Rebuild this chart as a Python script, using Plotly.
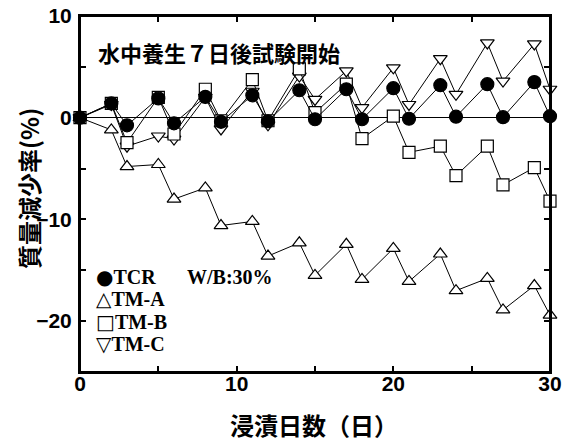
import plotly.graph_objects as go

days = [0, 2, 3, 5, 6, 8, 9, 11, 12, 14, 15, 17, 18, 20, 21, 23, 24, 26, 27, 29, 30]
tcr = [0, 1.4, -0.75, 1.9, -0.55, 2.05, -0.4, 2.2, -0.35, 2.7, -0.15, 2.8, -0.15, 2.9, -0.1, 3.2, 0.1, 3.3, 0.05, 3.5, 0.15]
tm_a = [0, -1.2, -4.8, -4.6, -8.0, -6.9, -10.6, -10.2, -13.6, -12.3, -15.5, -12.45, -15.9, -12.85, -16.1, -13.4, -17.0, -15.8, -18.9, -16.5, -19.4]
tm_b = [0, 1.4, -2.45, 2.0, -1.6, 2.8, -0.3, 3.75, -0.3, 4.8, 0.5, 3.3, -2.05, 0.15, -3.4, -2.8, -5.7, -2.8, -6.6, -4.9, -8.2]
tm_c = [0, 1.3, -2.8, -1.8, -2.1, 2.0, -1.1, 2.6, -0.7, 4.1, 1.8, 4.6, 1.0, 4.9, 1.3, 5.8, 2.3, 7.35, 3.6, 7.25, 2.8]

x_range = [0, 30]
y_range = [-25, 10]

series = [
    ("TM-A", tm_a, "triangle-up", 12, "white"),
    ("TM-C", tm_c, "triangle-down", 12, "white"),
    ("TM-B", tm_b, "square", 12, "white"),
    ("TCR", tcr, "circle", 13, "black"),
]

fig = go.Figure()
for name, vals, sym, size, fill in series:
    fig.add_trace(go.Scatter(
        x=days, y=vals, name=name, mode="lines+markers",
        line=dict(color="black", width=1),
        marker=dict(symbol=sym, size=size, color=fill,
                    line=dict(color="black", width=1.2)),
        showlegend=False, cliponaxis=False,
    ))

sans = "Liberation Sans, Arial, sans-serif"
cjk = "Noto Sans CJK JP, sans-serif"
serif = "Liberation Serif, Times New Roman, serif"

axis_common = dict(
    showline=True, linecolor="#000000", linewidth=2, mirror="allticks",
    ticks="inside", ticklen=6, tickwidth=1.5, tickcolor="#000000",
    showgrid=False, automargin=False,
    tickfont=dict(family=sans, size=21, color="black", weight="bold"),
    minor=dict(ticks="inside", ticklen=6, tickwidth=1.5, tickcolor="#000000", dtick=5, showgrid=False),
)

fig.update_layout(
    xaxis=dict(range=x_range, dtick=10, tick0=0, zeroline=False, ticklabelstandoff=-8, **axis_common),
    yaxis=dict(range=y_range, dtick=10, tick0=0, zeroline=True, zerolinecolor="black",
               zerolinewidth=1, ticklabelstandoff=2, **axis_common),
)

big = '<span style="font-family:DejaVu Sans;font-size:20px">{}</span>'

def leg(text, x, y):
    return dict(text=text, xref="paper", yref="paper", x=x, y=y,
                xanchor="left", yanchor="middle", showarrow=False,
                font=dict(family=serif, size=20, color="black", weight="bold"))

fig.update_layout(
    width=570, height=443,
    margin=dict(l=80, r=20, t=16, b=71),
    plot_bgcolor="white", paper_bgcolor="white",
    shapes=[dict(type="rect", xref="paper", yref="paper", x0=0, x1=1, y0=0, y1=1,
                 line=dict(color="#000000", width=2), fillcolor="rgba(0,0,0,0)", layer="above")],
    annotations=[
        dict(text="水中養生７日後試験開始", xref="paper", yref="paper", x=0.034, y=0.9,
             xanchor="left", yanchor="middle", showarrow=False,
             font=dict(family=cjk, size=22, color="black", weight="bold")),
        dict(text="浸漬日数（日）", xref="paper", yref="paper", x=0.497, y=-0.148,
             xanchor="center", yanchor="middle", showarrow=False,
             font=dict(family=cjk, size=24, color="black", weight="bold")),
        dict(text="質量減少率(%)", xref="paper", yref="paper", x=-0.11, y=0.515,
             xanchor="center", yanchor="middle", showarrow=False, textangle=-90,
             font=dict(family=cjk, size=24, color="black", weight="bold")),
        leg(big.format("●") + "TCR", 0.030, 0.267),
        leg("W/B:30%", 0.224, 0.267),
        leg(big.format("△") + "TM-A", 0.030, 0.204),
        leg(big.format("□") + "TM-B", 0.030, 0.141),
        leg(big.format("▽") + "TM-C", 0.030, 0.078),
    ],
)

fig.write_html("out.html")
